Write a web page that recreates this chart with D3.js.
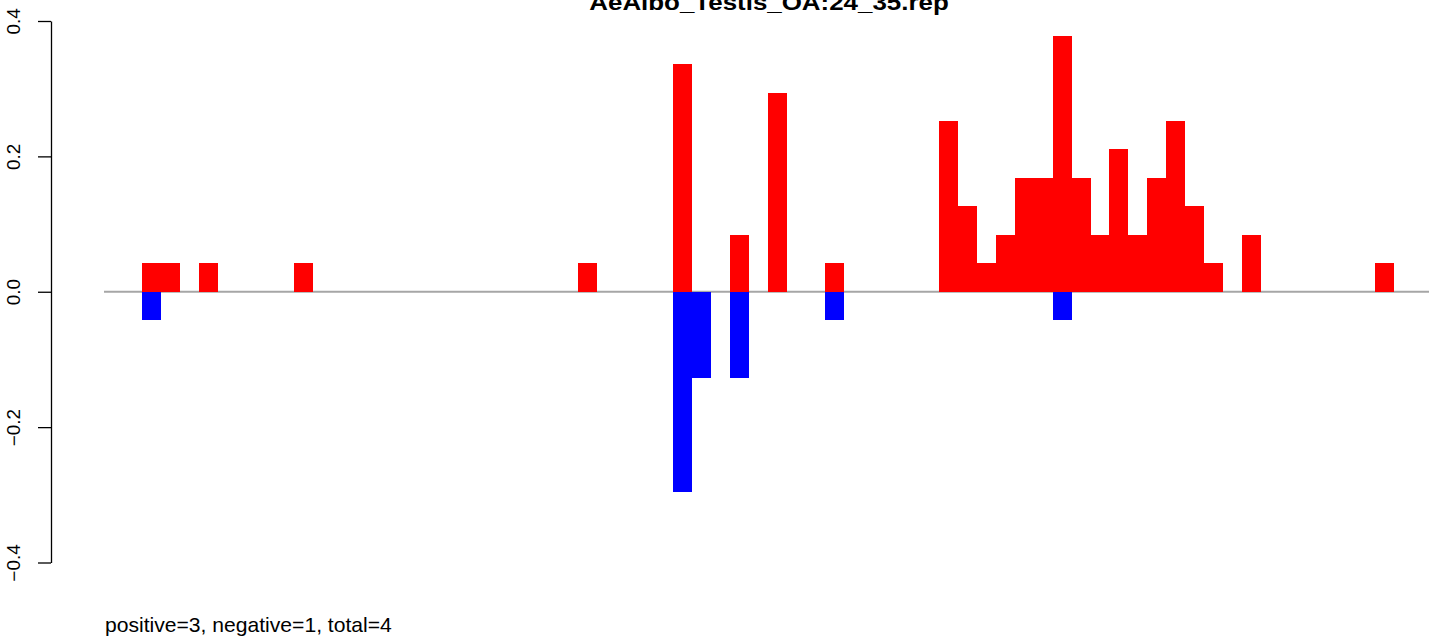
<!DOCTYPE html>
<html>
<head>
<meta charset="utf-8">
<script src="https://cdn.jsdelivr.net/npm/d3@7"></script>
<style>
  html, body { margin: 0; padding: 0; background: #fff; }
  svg { display: block; font-family: "Liberation Sans", Arial, sans-serif; }
</style>
</head>
<body>
<svg id="chart" width="1429" height="639"></svg>
<script>
// ---- data ----
const titleText = "AeAlbo_Testis_OA:24_35.rep";
const subText = "positive=3, negative=1, total=4";
const categories = d3.range(70);
const positiveValues = [
  0, 0, 0.042, 0.042, 0, 0.042, 0, 0, 0, 0,
  0.042, 0, 0, 0, 0, 0, 0, 0, 0, 0,
  0, 0, 0, 0, 0, 0.042, 0, 0, 0, 0,
  0.337, 0, 0, 0.084, 0, 0.294, 0, 0, 0.042, 0,
  0, 0, 0, 0, 0.253, 0.127, 0.042, 0.084, 0.168, 0.168,
  0.378, 0.168, 0.084, 0.211, 0.084, 0.168, 0.253, 0.127, 0.042, 0,
  0.084, 0, 0, 0, 0, 0, 0, 0.042, 0, 0
];
const negativeValues = [
  0, 0, -0.042, 0, 0, 0, 0, 0, 0, 0,
  0, 0, 0, 0, 0, 0, 0, 0, 0, 0,
  0, 0, 0, 0, 0, 0, 0, 0, 0, 0,
  -0.2955, -0.127, 0, -0.127, 0, 0, 0, 0, -0.042, 0,
  0, 0, 0, 0, 0, 0, 0, 0, 0, 0,
  -0.042, 0, 0, 0, 0, 0, 0, 0, 0, 0,
  0, 0, 0, 0, 0, 0, 0, 0, 0, 0
];
const yTicks = [-0.4, -0.2, 0, 0.2, 0.4];

// ---- layout ----
const svg = d3.select("#chart");
const W = 1429, H = 639;
const barStep = 18.97;
const x0 = 104.06;
const x = d3.scaleBand()
  .domain(categories)
  .range([x0, x0 + categories.length * barStep])
  .padding(0);
const y = d3.scaleLinear().domain([-0.4, 0.4]).range([562.5, 21]);

// zero line
svg.append("line")
  .attr("x1", 104).attr("x2", W)
  .attr("y1", y(0)).attr("y2", y(0))
  .attr("stroke", "#a6a6a6").attr("stroke-width", 2);

// positive bars
svg.append("g").attr("shape-rendering", "crispEdges").selectAll("rect")
  .data(categories.filter(i => positiveValues[i] > 0))
  .join("rect")
  .attr("x", i => x(i))
  .attr("width", x.bandwidth())
  .attr("y", i => y(positiveValues[i]))
  .attr("height", i => y(0) - y(positiveValues[i]))
  .attr("fill", "#ff0000");

// negative bars
svg.append("g").attr("shape-rendering", "crispEdges").selectAll("rect")
  .data(categories.filter(i => negativeValues[i] < 0))
  .join("rect")
  .attr("x", i => x(i))
  .attr("width", x.bandwidth())
  .attr("y", y(0))
  .attr("height", i => y(negativeValues[i]) - y(0))
  .attr("fill", "#0000ff");

// y axis
const yAxis = d3.axisLeft(y)
  .tickValues(yTicks)
  .tickSize(13)
  .tickSizeOuter(0)
  .tickFormat(d3.format(".1f"));
const gy = svg.append("g")
  .attr("transform", "translate(51,0)")
  .call(yAxis);
gy.select(".domain").attr("stroke", "#000").attr("stroke-width", 1.3);
gy.selectAll(".tick line").attr("stroke", "#000").attr("stroke-width", 1.3);
gy.selectAll(".tick text")
  .attr("x", null).attr("dy", null)
  .attr("transform", "translate(-31,0) rotate(-90) scale(1.05,1)")
  .attr("text-anchor", "middle")
  .attr("fill", "#000")
  .style("font-family", "'Liberation Sans', Arial, sans-serif")
  .style("font-size", "18px");

// title
svg.append("text")
  .attr("transform", "translate(769,10) scale(1.2,1)")
  .attr("text-anchor", "middle")
  .style("font-weight", "bold")
  .style("font-size", "21.6px")
  .attr("fill", "#000")
  .text(titleText);

// bottom text
svg.append("text")
  .attr("transform", "translate(105,632) scale(1.056,1)")
  .attr("text-anchor", "start")
  .style("font-size", "20px")
  .attr("fill", "#000")
  .text(subText);
</script>
</body>
</html>
